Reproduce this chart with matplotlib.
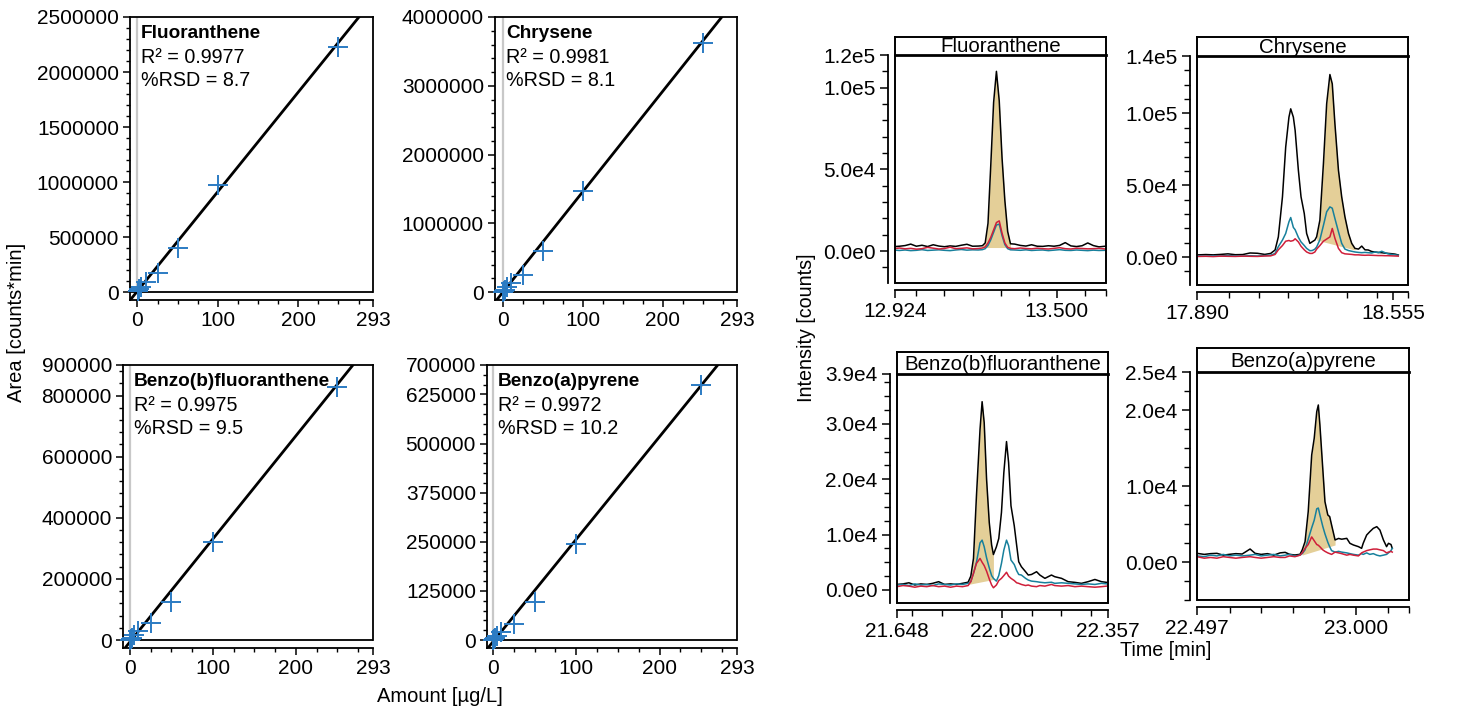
import numpy as np
import matplotlib
matplotlib.use("Agg")
import matplotlib.pyplot as plt
from matplotlib.ticker import FixedLocator, MultipleLocator
from matplotlib.patches import Rectangle

plt.rcParams['font.family'] = ['Liberation Sans', 'DejaVu Sans']
plt.rcParams['font.size'] = 14.5

W, H = 1457, 713

# ---------------- calibration data ----------------
compounds = ["Fluoranthene", "Chrysene", "Benzo(b)fluoranthene", "Benzo(a)pyrene"]
amount = [0.5, 1, 2.5, 5, 10, 25, 50, 100, 250]
area_flu = [5000, 10000, 25000, 50000, 90000, 175000, 400000, 975000, 2230000]
area_chr = [7000, 15000, 35000, 70000, 130000, 250000, 590000, 1470000, 3620000]
area_bbf = [1500, 3000, 8000, 15000, 28000, 55000, 125000, 320000, 828000]
area_bap = [1000, 2000, 5000, 10000, 20000, 41000, 97000, 244000, 649000]
r2 = ["0.9977", "0.9981", "0.9975", "0.9972"]
rsd = ["8.7", "8.1", "9.5", "10.2"]
fit_slope = [9040, 14600, 3370, 2610]
fit_intercept = [9000, 0, -6000, -4400]

cal_ymax = [2500000, 4000000, 900000, 700000]
cal_yticks = [[0, 500000, 1000000, 1500000, 2000000, 2500000],
              [0, 1000000, 2000000, 3000000, 4000000],
              [0, 200000, 400000, 600000, 800000, 900000],
              [0, 125000, 250000, 375000, 500000, 625000, 700000]]
cal_yminor = [100000, 200000, 40000, 25000]
cal_xticks = [0, 100, 200, 293]

# ---------------- chromatogram data ----------------
t_flu = [12.924, 12.94, 12.96, 12.98, 13.00, 13.02, 13.04, 13.06, 13.08, 13.10, 13.12, 13.14, 13.16, 13.18,
         13.20, 13.22, 13.235, 13.245, 13.255, 13.265, 13.275, 13.285, 13.295, 13.305, 13.315, 13.325, 13.335,
         13.35, 13.37, 13.39, 13.41, 13.43, 13.45, 13.47, 13.49, 13.51, 13.53, 13.55, 13.57, 13.59, 13.61,
         13.63, 13.65, 13.672]
flu_black = [2800, 3000, 3400, 4300, 3000, 3600, 2800, 3900, 3100, 2700, 3200, 2900, 3600, 4200,
             3000, 3100, 3300, 5000, 17000, 53000, 91000, 110000, 92000, 57000, 31000, 12000, 4500,
             4300, 3500, 3100, 3900, 3000, 2900, 3300, 3000, 3500, 5200, 3200, 2800, 3300, 5000,
             3400, 2600, 3000]
flu_blue = [600, 400, 700, 300, 500, 900, 400, 600, 800, 500, 300, 700, 1000, 600,
            800, 700, 900, 1500, 3500, 7000, 11500, 16000, 16500, 9500, 4000, 1500, 800,
            700, 500, 800, 400, 600, 700, 300, 600, 900, 500, 400, 700, 500, 300,
            600, 400, 500]
flu_red = [1600, 1900, 1400, 1700, 1200, 1500, 2300, 1800, 1300, 1600, 2400, 1500, 1700, 2000,
           1400, 1600, 1900, 2600, 5000, 8500, 13000, 17500, 18500, 11000, 5000, 2300, 1700,
           1500, 1900, 1600, 1400, 1800, 1500, 1300, 1700, 2100, 1500, 1300, 1800, 1600, 1400,
           1500, 1700, 1300]

t_chr = [17.895, 17.92, 17.945, 17.97, 17.995, 18.02, 18.045, 18.07, 18.095, 18.12, 18.14,
         18.155, 18.166, 18.18, 18.191, 18.202, 18.208, 18.217, 18.223, 18.234, 18.243,
         18.254, 18.262, 18.273, 18.281, 18.290, 18.296, 18.307, 18.319, 18.330, 18.341,
         18.349, 18.358, 18.370, 18.381, 18.392, 18.404, 18.415, 18.426, 18.438, 18.449,
         18.46, 18.471, 18.483, 18.494, 18.505, 18.517, 18.528, 18.539, 18.55, 18.562, 18.573]
chr_black = [1500, 1700, 1500, 1800, 2200, 1600, 1700, 2800, 2600, 1800, 2500,
             4900, 14000, 41900, 76600, 97400, 103200, 97400, 88200, 60400, 41900,
             30300, 16400, 9500, 10600, 11800, 14100, 25700, 65000, 106700, 127100,
             120600, 92800, 60400, 41900, 28000, 16400, 9500, 6000, 5500, 7600,
             5000, 4900, 3800, 3500, 3200, 3000, 2700, 2500, 2300, 2000, 1400]
chr_blue = [800, 600, 900, 700, 1000, 800, 600, 900, 700, 1000, 1200,
            2500, 7200, 11800, 16400, 24500, 27500, 20600, 19000, 13700, 10500,
            8000, 6000, 4400, 4500, 5500, 7000, 12000, 22000, 31500, 34900,
            34000, 26800, 17600, 9500, 5500, 4500, 4000, 3500, 3200, 3000,
            3200, 3000, 2800, 3500, 3000, 4000, 3000, 2200, 1800, 1500, 1200]
chr_red = [400, 500, 300, 600, 500, 400, 600, 500, 400, 700, 800,
           1800, 5000, 8000, 11000, 11500, 11000, 11500, 12700, 10500, 7500,
           5000, 3500, 2500, 2500, 3500, 5500, 8000, 11000, 12500, 14000,
           19900, 13000, 6000, 3000, 2200, 2000, 1800, 1500, 1500, 1300,
           1200, 1300, 1200, 1100, 1000, 1000, 900, 900, 800, 700, 600]

t_bbf = [21.648, 21.668, 21.688, 21.708, 21.728, 21.748, 21.768, 21.788, 21.808, 21.828, 21.848, 21.868,
         21.887, 21.896, 21.905, 21.915, 21.927, 21.934, 21.941, 21.949, 21.958, 21.966, 21.972,
         21.982, 21.990, 21.999, 22.007, 22.016, 22.023, 22.031, 22.042, 22.050, 22.057, 22.066,
         22.080, 22.089, 22.100, 22.117, 22.128, 22.145, 22.167, 22.178, 22.201, 22.223, 22.246,
         22.268, 22.290, 22.313, 22.335, 22.353]
bbf_black = [1000, 1100, 1300, 900, 1100, 1000, 1200, 1500, 1000, 1100, 1000, 1200,
             1400, 2500, 5700, 17000, 29000, 34000, 30200, 20000, 12200, 8100, 6400,
             7800, 9300, 14000, 21200, 26800, 23000, 15200, 11600, 8100, 5100, 4200,
             3300, 2700, 2800, 3300, 2700, 2100, 2700, 2400, 2100, 1500, 1370, 1200, 1500, 1900, 1500, 1370]
bbf_blue = [900, 1000, 800, 1100, 900, 1000, 800, 1100, 1000, 900, 1100, 1000,
            1200, 1500, 3000, 5000, 8500, 9000, 7800, 5800, 4000, 2600, 2100,
            1600, 2600, 4800, 7200, 9000, 8000, 5400, 4600, 3500, 2800, 2700,
            2100, 1800, 1600, 1500, 1400, 1300, 1400, 1200, 1300, 1200, 1100, 1000, 1100, 1000, 1200, 1100]
bbf_red = [600, 800, 700, 500, 700, 600, 800, 600, 700, 500, 700, 600,
           800, 1500, 3000, 4800, 5700, 5000, 4400, 3400, 2000, 900, 400,
           900, 1700, 2100, 2600, 3200, 2500, 2100, 1700, 1300, 1200, 1000,
           800, 900, 700, 600, 800, 700, 1000, 800, 700, 800, 600, 700, 600, 500, 600, 700]

t_bap = [22.497, 22.52, 22.54, 22.56, 22.58, 22.60, 22.62, 22.64, 22.665, 22.681,
         22.70, 22.72, 22.74, 22.76, 22.776, 22.79, 22.807, 22.823, 22.830, 22.839,
         22.849, 22.860, 22.868, 22.876, 22.881, 22.886, 22.895, 22.902, 22.911, 22.917,
         22.923, 22.934, 22.945, 22.955, 22.971, 22.981, 22.992, 23.008, 23.018, 23.023,
         23.034, 23.044, 23.055, 23.066, 23.076, 23.087, 23.097, 23.103, 23.111, 23.115]
bap_black = [1140, 1000, 1100, 1140, 900, 1010, 1100, 1050, 1710, 1140,
             1000, 1100, 900, 1200, 1270, 1010, 920, 1010, 1580, 2680,
             6620, 14080, 16280, 19780, 20660, 18030, 12330, 7940, 6190, 5970,
             4870, 2900, 3100, 3000, 3110, 2460, 2240, 2020, 1800, 2460,
             3550, 3990, 4430, 4650, 4200, 2900, 2020, 2460, 2300, 1800]
bap_blue = [800, 700, 900, 800, 1000, 800, 900, 800, 900, 1000,
            800, 900, 1000, 800, 900, 1000, 800, 900, 1100, 1600,
            3000, 4500, 5500, 7000, 7100, 6200, 4700, 3700, 2600, 2000,
            1500, 1300, 1400, 1300, 1200, 1100, 1000, 900, 1100, 1000,
            1200, 1000, 1100, 900, 800, 900, 1000, 1200, 1500, 1800]
bap_red = [700, 500, 600, 500, 700, 600, 500, 600, 700, 600,
           500, 600, 700, 600, 600, 800, 700, 900, 1200, 1800,
           2300, 3300, 2800, 2300, 2200, 2000, 1600, 1400, 1200, 1100,
           1000, 1300, 1200, 1100, 900, 1000, 900, 800, 1200, 1300,
           1500, 1600, 1700, 1700, 1600, 1500, 1200, 1300, 1400, 1300]

# integrated peak: start, end, baseline at start, baseline at end
peak_flu = (13.235, 13.335, 2200, 2200)
peak_chr = (18.296, 18.426, 11800, 4900)
peak_bbf = (21.887, 21.972, 1000, 1900)
peak_bap = (22.830, 22.934, 920, 2240)

chrom_xlim = [(12.924, 13.675), (17.890, 18.606), (21.648, 22.357), (22.497, 23.168)]
chrom_ylim = [(-19500, 120000), (-19500, 140000), (-2350, 39000), (-5000, 25000)]
chrom_xmajor = [[12.924, 13.500], [17.890, 18.555], [21.648, 22.000, 22.357], [22.497, 23.000]]
chrom_xminor = [[13.0, 13.1, 13.2, 13.3, 13.4, 13.6, 13.675],
                [18.0, 18.1, 18.2, 18.3, 18.4, 18.5, 18.606],
                [21.7, 21.8, 21.9, 22.1, 22.2, 22.3],
                [22.6, 22.7, 22.8, 22.9, 23.1, 23.168]]
chrom_ymajor = [[0, 50000, 100000, 120000], [0, 50000, 100000, 140000],
                [0, 10000, 20000, 30000, 39000], [0, 10000, 20000, 25000]]
chrom_yminor = [10000, 10000, 2500, 2500]

BLUE = '#2b7bc3'
TEAL = '#17809c'
RED = '#cf1f3a'
FILL = '#e4cf98'


def px_axes(fig, l, t, r, b):
    return fig.add_axes([l / W, 1 - b / H, (r - l) / W, (b - t) / H])


def sci(v):
    if v == 0:
        return "0.0e0"
    e = int(np.floor(np.log10(abs(v))))
    return f"{v / 10**e:.1f}e{e}"


fig = plt.figure(figsize=(W / 100, H / 100), dpi=100)

# ---------------- calibration curves ----------------
cal_boxes = [(130, 17, 373, 300), (495, 17, 737, 300), (123, 365, 373, 648), (487, 365, 737, 648)]
cal_xmin = [-9.3, -10, -8.4, -7.2]
areas = [area_flu, area_chr, area_bbf, area_bap]

for i, (l, t, r, b) in enumerate(cal_boxes):
    ax = px_axes(fig, l, t, r, b)
    ymax = cal_ymax[i]
    ax.set_xlim(cal_xmin[i], 293)
    ax.set_ylim(-0.029 * ymax, ymax)
    for s in ax.spines.values():
        s.set_linewidth(1.3)
    ax.spines['right'].set_bounds(0, ymax)
    ax.axhline(0, color='k', lw=1.3, zorder=1)
    ax.vlines(0, 0, ymax, color='#c8c8c8', lw=1.6, zorder=1)
    ax.axline((0, fit_intercept[i]), slope=fit_slope[i], color='k', lw=2, zorder=2)
    ax.plot(amount, areas[i], '+', color=BLUE, ms=14, mew=1.4, zorder=3, clip_on=False)

    ax.yaxis.set_major_locator(FixedLocator(cal_yticks[i]))
    ax.set_yticklabels([str(v) for v in cal_yticks[i]])
    ax.yaxis.set_minor_locator(MultipleLocator(cal_yminor[i]))
    ax.xaxis.set_major_locator(FixedLocator(cal_xticks))
    ax.set_xticklabels([str(v) for v in cal_xticks])
    ax.xaxis.set_minor_locator(MultipleLocator(25))
    ax.tick_params(which='major', length=5, width=1.1, direction='out', pad=3, labelsize=15)
    ax.tick_params(which='minor', length=3, width=1.0, direction='out')

    ax.annotate(compounds[i], xy=(0, 1), xycoords='axes fraction', xytext=(11, -8),
                textcoords='offset pixels', va='top', fontweight='bold', fontsize=13.7)
    ax.annotate(f"R² = {r2[i]}", xy=(0, 1), xycoords='axes fraction', xytext=(11, -31),
                textcoords='offset pixels', va='top', fontsize=14.2)
    ax.annotate(f"%RSD = {rsd[i]}", xy=(0, 1), xycoords='axes fraction', xytext=(11, -54),
                textcoords='offset pixels', va='top', fontsize=14.2)

fig.text(17 / W, 1 - 322 / H, "Area [counts*min]", rotation=90, ha='center', va='center')
fig.text(440 / W, 1 - 697 / H, "Amount [µg/L]", ha='center', va='center')

# ---------------- chromatograms ----------------
chrom_boxes = [(895, 55, 1106, 283), (1197, 56, 1408, 285), (897, 374, 1108, 603), (1197, 372, 1409, 600)]
title_tops = [37, 37, 352, 348]
traces = [(t_flu, flu_black, flu_blue, flu_red, peak_flu),
          (t_chr, chr_black, chr_blue, chr_red, peak_chr),
          (t_bbf, bbf_black, bbf_blue, bbf_red, peak_bbf),
          (t_bap, bap_black, bap_blue, bap_red, peak_bap)]

for i, (l, t, r, b) in enumerate(chrom_boxes):
    ax = px_axes(fig, l, t, r, b)
    tt, blk, blu, red, pk = traces[i]
    tt = np.array(tt)
    blk = np.array(blk)
    m = (tt >= pk[0]) & (tt <= pk[1])
    base = np.interp(tt[m], [pk[0], pk[1]], [pk[2], pk[3]])
    ax.fill_between(tt[m], base, blk[m], color=FILL, lw=0, zorder=1)
    ax.plot(tt, blk, color='k', lw=1.1, zorder=2)
    ax.plot(tt, blu, color=TEAL, lw=1.1, zorder=3)
    ax.plot(tt, red, color=RED, lw=1.1, zorder=4)

    ax.set_xlim(*chrom_xlim[i])
    ax.set_ylim(*chrom_ylim[i])
    ax.spines['left'].set_position(('outward', 5))
    ax.spines['bottom'].set_position(('outward', 5))
    ax.spines['top'].set_visible(False)
    ax.spines['right'].set_visible(False)
    for s in ('left', 'bottom'):
        ax.spines[s].set_linewidth(1.3)
    ax.add_patch(Rectangle((0, 0), 1, 1, transform=ax.transAxes, fill=False,
                           lw=1.4, ec='k', clip_on=False, zorder=5))

    ax.xaxis.set_major_locator(FixedLocator(chrom_xmajor[i]))
    ax.set_xticklabels([f"{v:.3f}" for v in chrom_xmajor[i]])
    ax.xaxis.set_minor_locator(FixedLocator(chrom_xminor[i]))
    ax.yaxis.set_major_locator(FixedLocator(chrom_ymajor[i]))
    ax.set_yticklabels([sci(v) for v in chrom_ymajor[i]])
    ax.yaxis.set_minor_locator(MultipleLocator(chrom_yminor[i]))
    ax.tick_params(which='major', length=6, width=1.1, direction='out', pad=3, labelsize=15)
    ax.tick_params(which='minor', length=4, width=1.0, direction='out')

    hd = px_axes(fig, l, title_tops[i], r, t)
    hd.set_xticks([])
    hd.set_yticks([])
    for s in hd.spines.values():
        s.set_linewidth(1.4)
    hd.spines['bottom'].set_linewidth(2)
    hd.text(0.5, 0.45, compounds[i], ha='center', va='center', transform=hd.transAxes, fontsize=14.8)

fig.text(806 / W, 1 - 328 / H, "Intensity [counts]", rotation=90, ha='center', va='center', fontsize=14.2)
fig.text(1166 / W, 1 - 651 / H, "Time [min]", ha='center', va='center', fontsize=14.2)

fig.savefig("out.png", dpi=100)
